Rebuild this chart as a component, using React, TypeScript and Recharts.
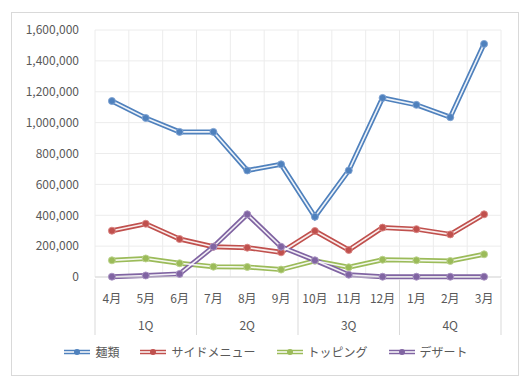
import React from 'react';
import { LineChart, Line, XAxis, YAxis, CartesianGrid, Legend } from 'recharts';

const months = ['4月', '5月', '6月', '7月', '8月', '9月', '10月', '11月', '12月', '1月', '2月', '3月'];
const quarters = ['1Q', '1Q', '1Q', '2Q', '2Q', '2Q', '3Q', '3Q', '3Q', '4Q', '4Q', '4Q'];
const noodles = [1140000, 1030000, 940000, 940000, 690000, 730000, 390000, 690000, 1160000, 1115000, 1035000, 1510000];
const sideMenu = [300000, 345000, 246000, 196000, 190000, 160000, 298000, 175000, 320000, 310000, 276000, 406000];
const topping = [108000, 120000, 89000, 67000, 65000, 48000, 105000, 63000, 112000, 108000, 104000, 147000];
const dessert = [2000, 10000, 20000, 196000, 406000, 196000, 108000, 15000, 2000, 2000, 2000, 2000];
const yTicks = [0, 200000, 400000, 600000, 800000, 1000000, 1200000, 1400000, 1600000];

const series = [
  { key: 'noodles', name: '麺類', color: '#4F81BD', light: '#7fa3d3' },
  { key: 'side', name: 'サイドメニュー', color: '#C0504D', light: '#d98583' },
  { key: 'topping', name: 'トッピング', color: '#9BBB59', light: '#bcd38e' },
  { key: 'dessert', name: 'デザート', color: '#8064A2', light: '#a892c2' },
];

const data = months.map((m, i) => ({
  month: m,
  quarter: quarters[i],
  noodles: noodles[i],
  side: sideMenu[i],
  topping: topping[i],
  dessert: dessert[i],
}));

const W = 532;
const H = 389;
const margin = { top: 30, right: 31, bottom: 52, left: 10 };
const yAxisWidth = 85;
const plotWidth = W - margin.left - margin.right - yAxisWidth;
const band = plotWidth / months.length;

const font = '"Noto Sans CJK JP", "Noto Sans", sans-serif';
const textColor = '#595959';

// month label plus the quarter row underneath (Excel style multi-level axis)
const MonthTick = (props: any) => {
  const { x, y, index, payload } = props;
  const pos = index % 3;
  const sep = '#d9d9d9';
  return (
    <g>
      <text x={x} y={y + 24} textAnchor="middle" fontSize={12} fill={textColor} fontFamily={font}>
        {payload.value}
      </text>
      {pos === 0 && <line x1={x - band / 2} x2={x - band / 2} y1={y} y2={y + 56} stroke={sep} />}
      {index === months.length - 1 && (
        <line x1={x + band / 2} x2={x + band / 2} y1={y} y2={y + 56} stroke={sep} />
      )}
      {pos === 1 && (
        <text x={x} y={y + 51} textAnchor="middle" fontSize={12} fill={textColor} fontFamily={font}>
          {quarters[index]}
        </text>
      )}
    </g>
  );
};

const LegendIcon = ({ color }: { color: string }) => (
  <svg width={26} height={10} style={{ marginRight: 5 }}>
    <line x1={0} x2={26} y1={5} y2={5} stroke={color} strokeWidth={4.5} />
    <line x1={0} x2={26} y1={5} y2={5} stroke="#fff" strokeWidth={1.5} />
    <circle cx={13} cy={5} r={3} fill={color} />
  </svg>
);

const renderLegend = () => (
  <div style={{ display: 'flex', justifyContent: 'center', alignItems: 'center', fontFamily: font, fontSize: 12, color: textColor }}>
    {series.map((s, i) => (
      <div key={s.key} style={{ display: 'flex', alignItems: 'center', marginLeft: i === 0 ? 0 : 21 }}>
        <LegendIcon color={s.color} />
        <span>{s.name}</span>
      </div>
    ))}
  </div>
);

export default function App() {
  return (
    <div style={{ position: 'fixed', left: 0, top: 0, width: W, height: H, background: '#fff' }}>
      <div
        style={{
          position: 'absolute',
          left: 11,
          top: 12,
          width: 506,
          height: 362,
          border: '1px solid #d9d9d9',
        }}
      />
      <div style={{ position: 'absolute', left: 0, top: 0 }}>
        <LineChart width={W} height={H} data={data} margin={margin}>
          <CartesianGrid
            stroke="#ececec"
            verticalCoordinatesGenerator={({ offset }: any) =>
              months.map((_, i) => offset.left + (i * offset.width) / months.length).concat(offset.left + offset.width)
            }
          />
          <XAxis
            dataKey="month"
            scale="band"
            interval={0}
            height={60}
            tickSize={0}
            axisLine={{ stroke: '#d9d9d9' }}
            tick={<MonthTick />}
          />
          <YAxis
            width={yAxisWidth}
            domain={[0, 1600000]}
            ticks={yTicks}
            axisLine={false}
            tickLine={false}
            tickSize={0}
            tickMargin={16}
            tickFormatter={(v: number) => v.toLocaleString('en-US')}
            tick={{ fontSize: 12, fill: textColor, fontFamily: font }}
          />
          <Legend verticalAlign="middle" align="center" content={renderLegend} wrapperStyle={{ top: 343, left: 0, width: W }} />
          {series.map((s) => (
            <Line
              key={s.key}
              dataKey={s.key}
              name={s.name}
              stroke={s.color}
              strokeWidth={5}
              dot={false}
              activeDot={false}
              isAnimationActive={false}
            />
          ))}
          {series.map((s) => (
            <Line
              key={s.key + '-inner'}
              dataKey={s.key}
              legendType="none"
              stroke="#ffffff"
              strokeOpacity={0.9}
              strokeWidth={1.6}
              dot={{ r: 3.5, fill: s.color, stroke: s.light, strokeWidth: 1 }}
              activeDot={false}
              isAnimationActive={false}
            />
          ))}
        </LineChart>
      </div>
    </div>
  );
}
